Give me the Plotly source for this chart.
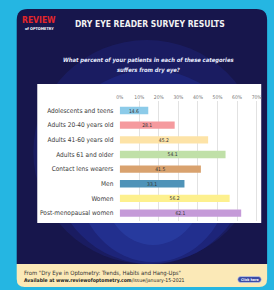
import plotly.graph_objects as go

W, H = 274, 290

# ---- data ----
categories = [
    "Adolescents and teens",
    "Adults 20-40 years old",
    "Adults 41-60 years old",
    "Adults 61 and older",
    "Contact lens wearers",
    "Men",
    "Women",
    "Post-menopausal women",
]
values = [14.6, 28.1, 45.2, 54.1, 41.5, 33.1, 56.2, 62.1]
bar_colors = ["#8ccbe9", "#f59a9e", "#fde3a7", "#c0e0a8",
              "#d9a26e", "#4f93b8", "#fdf08e", "#c59ad8"]
tick_vals = [0, 10, 20, 30, 40, 50, 60, 70]
tick_labels = ["0%", "10%", "20%", "30%", "40%", "50%", "60%", "70%"]

title_text = "DRY EYE READER SURVEY RESULTS"
question_lines = ["What percent of your patients in each of these categories",
                  "suffers from dry eye?"]

NARROW = "Liberation Sans Narrow, DejaVu Sans Condensed, Arial Narrow, sans-serif"


def px(x):
    return x / W


def py(y):
    return 1 - y / H


def rrect(x0, y0, x1, y1, rt, rb):
    pts = []
    pts.append(f"M {px(x0 + rt)},{py(y0)}")
    pts.append(f"L {px(x1 - rt)},{py(y0)}")
    pts.append(f"Q {px(x1)},{py(y0)} {px(x1)},{py(y0 + rt)}")
    pts.append(f"L {px(x1)},{py(y1 - rb)}")
    pts.append(f"Q {px(x1)},{py(y1)} {px(x1 - rb)},{py(y1)}")
    pts.append(f"L {px(x0 + rb)},{py(y1)}")
    pts.append(f"Q {px(x0)},{py(y1)} {px(x0)},{py(y1 - rb)}")
    pts.append(f"L {px(x0)},{py(y0 + rt)}")
    pts.append(f"Q {px(x0)},{py(y0)} {px(x0 + rt)},{py(y0)}")
    pts.append("Z")
    return " ".join(pts)


shapes = []
# dark panel
shapes.append(dict(type="path", xref="paper", yref="paper", layer="below",
                   path=rrect(13, 9, 269, 264, 11, 0),
                   fillcolor="#17164c", line=dict(width=0)))
# blue glow (eye image)
for (x0, y0, x1, y1, c, o) in [
    (30, 40, 262, 264, "#1d2372", 0.55),
    (50, 70, 250, 264, "#222f96", 0.45),
    (75, 95, 230, 262, "#2a40ae", 0.4),
    (100, 120, 205, 245, "#3656c2", 0.3),
]:
    shapes.append(dict(type="circle", xref="paper", yref="paper", layer="below",
                       x0=px(x0), x1=px(x1), y0=py(y1), y1=py(y0),
                       fillcolor=c, opacity=o, line=dict(width=0)))
# footer
shapes.append(dict(type="path", xref="paper", yref="paper", layer="below",
                   path=rrect(13, 264, 269, 287, 0, 8),
                   fillcolor="#fbe9b7", line=dict(width=0)))
# white chart box
shapes.append(dict(type="rect", xref="paper", yref="paper", layer="below",
                   x0=px(34), x1=px(263), y0=py(223), y1=py(84),
                   fillcolor="#ffffff", line=dict(width=0)))
# button
shapes.append(dict(type="path", xref="paper", yref="paper", layer="above",
                   path=rrect(239, 276.5, 263, 282.5, 3, 3),
                   fillcolor="#3b4ba6", line=dict(width=0.6, color="#c9d3f5")))

annotations = []
# logo
annotations.append(dict(x=px(36), y=py(20.5), xref="paper", yref="paper",
                        text="<b>REVIEW</b>", showarrow=False,
                        font=dict(family=NARROW, size=8.5, color="#e5262a"),
                        xanchor="center", yanchor="middle"))
annotations.append(dict(x=px(36), y=py(28.5), xref="paper", yref="paper",
                        text="<b>of OPTOMETRY</b>", showarrow=False,
                        font=dict(family=NARROW, size=3.8, color="#ffffff"),
                        xanchor="center", yanchor="middle"))
# title
annotations.append(dict(x=px(149), y=py(24), xref="paper", yref="paper",
                        text=f"<b>{title_text}</b>", showarrow=False,
                        font=dict(family=NARROW, size=8.5, color="#f2f2f2"),
                        xanchor="center", yanchor="middle"))
# question
for i, line in enumerate(question_lines):
    annotations.append(dict(x=px(148), y=py(61 + 9 * i), xref="paper", yref="paper",
                            text=f"<b><i>{line}</i></b>", showarrow=False,
                            font=dict(family=NARROW, size=5.8, color="#e8ecff"),
                            xanchor="center", yanchor="middle"))
# footer texts
annotations.append(dict(x=px(18), y=py(273.5), xref="paper", yref="paper",
                        text="From \"Dry Eye in Optometry: Trends, Habits and Hang-Ups\"",
                        showarrow=False,
                        font=dict(family=NARROW, size=5.9, color="#333333"),
                        xanchor="left", yanchor="middle"))
annotations.append(dict(x=px(18), y=py(280), xref="paper", yref="paper",
                        text="<b>Available at www.reviewofoptometry.com</b>/issue/january-15-2021",
                        showarrow=False,
                        font=dict(family=NARROW, size=5.1, color="#222222"),
                        xanchor="left", yanchor="middle"))
annotations.append(dict(x=px(251), y=py(279.5), xref="paper", yref="paper",
                        text="<b>Click here</b>", showarrow=False,
                        font=dict(family=NARROW, size=3.5, color="#ffffff"),
                        xanchor="center", yanchor="middle"))

fig = go.Figure()
fig.add_trace(go.Bar(
    x=values,
    y=list(range(len(categories))),
    orientation="h",
    width=0.5,
    marker=dict(color=bar_colors, line=dict(width=0)),
    text=[f"{v:.1f}" for v in values],
    textposition="inside",
    insidetextanchor="middle",
    textfont=dict(family=NARROW, size=5, color="#333333"),
    constraintext="none",
    hoverinfo="skip",
))

fig.update_layout(
    width=W, height=H,
    margin=dict(l=0, r=0, t=0, b=0),
    paper_bgcolor="#25b6e2",
    plot_bgcolor="rgba(0,0,0,0)",
    showlegend=False,
    shapes=shapes,
    annotations=annotations,
    xaxis=dict(domain=[px(118.3), px(262.3)], range=[0, 72], side="top",
               tickvals=tick_vals, ticktext=tick_labels,
               tickfont=dict(family=NARROW, size=5, color="#777777"),
               showgrid=True, gridcolor="#e2e2e2", gridwidth=0.8,
               zeroline=False, showline=False, ticks="", fixedrange=True),
    yaxis=dict(domain=[py(221), py(101)], range=[7.54, -0.65],
               tickvals=list(range(len(categories))), ticktext=categories,
               tickfont=dict(family=NARROW, size=6.5, color="#3a3a3a"),
               showgrid=False, zeroline=False, showline=False,
               ticks="outside", ticklen=4, tickcolor="rgba(0,0,0,0)", fixedrange=True),
)

fig.write_html(
    "out.html",
    config={"displayModeBar": False},
    post_script="document.body.style.margin='0';document.body.style.overflow='hidden';",
)
